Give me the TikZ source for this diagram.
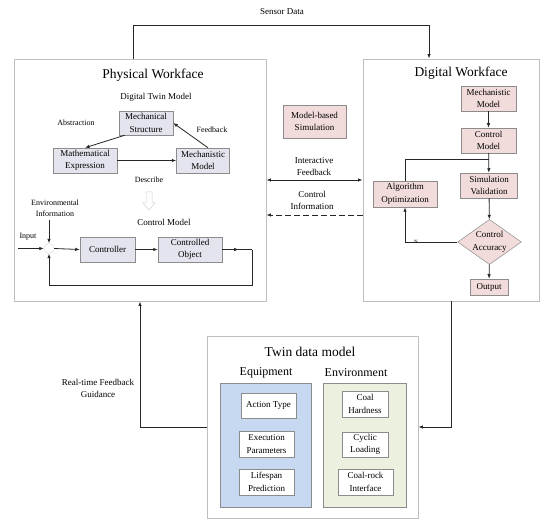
\documentclass[tikz,border=0pt]{standalone}
\usepackage{fontspec}
\setmainfont{Liberation Serif}
\usetikzlibrary{arrows.meta, decorations.markings, shapes.geometric, calc}
\definecolor{twGrey}{HTML}{BFBFBF}
\definecolor{twEdge}{HTML}{8C8C8C}
\definecolor{twLilac}{HTML}{E4E4EE}
\definecolor{twPink}{HTML}{F2DCDB}
\definecolor{twBlue}{HTML}{C6D9F1}
\definecolor{twGreen}{HTML}{EBF1DE}
\tikzset{
  frame/.style      = {draw=twGrey, line width=0.9pt, fill=white, inner sep=0pt},
  panel/.style      = {draw=twEdge, line width=0.5pt, inner sep=0pt},
  box/.style        = {draw=twEdge, line width=0.5pt, inner sep=1pt, align=center,
                       font=\fontsize{9}{12.5}\selectfont},
  lilacbox/.style   = {box, fill=twLilac},
  pinkbox/.style    = {box, fill=twPink},
  whitebox/.style   = {box, fill=white},
  arr/.style        = {-{Latex[length=4.5pt, width=3.5pt]}, line width=0.8pt, black!85},
  link/.style       = {line width=0.8pt, black!85},
  arrowhead/.style  = {decoration={markings,
                        mark=at position #1 with {\arrow{Latex[length=4.5pt, width=3.5pt]}}},
                       postaction={decorate}},
  title/.style      = {font=\fontsize{13.5}{15}\selectfont},
  subtitle/.style   = {font=\fontsize{12}{14}\selectfont},
  lbl/.style        = {font=\fontsize{9}{12.5}\selectfont, align=center},
  slbl/.style       = {font=\fontsize{8}{11}\selectfont, align=center},
}
\begin{document}
\begin{tikzpicture}[x=1pt, y=-1pt]
  \useasboundingbox (0,0) rectangle (550,527);

  % outer frames
  \node[frame, minimum width=252pt, minimum height=242pt] (phys) at (140,180) {};
  \node[frame, minimum width=176pt, minimum height=242pt] (dig)  at (451,180) {};
  \node[frame, minimum width=211pt, minimum height=182pt] (twin) at (312.5,427) {};

  % sensor data
  \coordinate (sdL) at (133,25);
  \coordinate (sdR) at (429,25);
  \node[lbl] (sd) at (282,12) {Sensor Data};
  \draw[arr] (phys.north -| sdL) -- (sdL) -- (sdR) -- (dig.north -| sdR);

  % physical workface : digital twin model
  \node[title] (physT) at (153,75) {Physical Workface};
  \node[lbl]   (dtm)   at (156,97) {Digital Twin Model};
  \node[lilacbox, minimum width=54pt, minimum height=24pt] (ms) at (146,123) {Mechanical\\Structure};
  \node[lilacbox, minimum width=64pt, minimum height=25pt] (me) at (85,160.5) {Mathematical\\Expression};
  \node[lilacbox, minimum width=53pt, minimum height=25pt] (mm) at (203,160.5) {Mechanistic\\Model};
  \draw[arr] ($(ms.south west)+(6,0)$) -- (me.north);
  \draw[arr] ($(mm.north)+(5,0)$) -- (ms.east);
  \draw[arr] (me.east) -- (mm.west);
  \node[slbl] (abs)  at (76,123)  {Abstraction};
  \node[slbl] (fbk)  at (212,130) {Feedback};
  \node[slbl] (desc) at (149,180) {Describe};
  \draw[twGrey!70, line width=0.5pt] (146,192) -- (152,192) -- (152,203) -- (155,203)
    -- (149,210) -- (143,203) -- (146,203) -- cycle;

  % physical workface : control model
  \node[lbl]  (cm)  at (164,222) {Control Model};
  \node[slbl] (env) at (55,208.5) {Environmental\\Information};
  \node[slbl] (inp) at (28,237) {Input};
  \node[circle, draw=twGrey!60, fill=white, minimum size=10pt, inner sep=0pt] (sum) at (49,248.5) {};
  \node[lilacbox, minimum width=55pt, minimum height=25pt] (ctrl) at (107.5,249.5) {Controller};
  \node[lilacbox, minimum width=64pt, minimum height=25pt] (obj)  at (190,249.5) {Controlled\\Object};
  \coordinate (envB) at (49,220);
  \coordinate (inL)  at (18,248.5);
  \coordinate (fbR)  at (252,249.5);
  \coordinate (fbL)  at (49,285);
  \draw[arr] (envB) -- (sum.north);
  \draw[arr] (inL) -- (sum.west);
  \draw[arr] (sum.east) -- (ctrl.west);
  \draw[arr] (ctrl.east) -- (obj.west);
  \draw[link, arrowhead=0.55] (obj.east) -- (fbR);
  \draw[arr] (fbR) |- (fbL) -- (sum.south);

  % between the workfaces
  \node[pinkbox, minimum width=63pt, minimum height=33pt] (mbs) at (314.5,121.5) {Model-based\\Simulation};
  \node[lbl] (ifb) at (314,166.5) {Interactive\\Feedback};
  \node[lbl] (cinf) at (312,200.5) {Control\\Information};
  \draw[{Latex[length=4.5pt, width=3.5pt]}-{Latex[length=4.5pt, width=3.5pt]}, link] (phys.east) -- (dig.west);
  \draw[arr, dashed, dash pattern=on 6pt off 3pt] ($(dig.west)+(0,35)$) -- ($(phys.east)+(0,35)$);

  % digital workface
  \node[title] (digT) at (461,73) {Digital Workface};
  \node[pinkbox, minimum width=55pt, minimum height=25pt] (dmm) at (488.5,98.5)  {Mechanistic\\Model};
  \node[pinkbox, minimum width=55pt, minimum height=25pt] (dcm) at (488.5,140.5) {Control\\Model};
  \node[pinkbox, minimum width=57pt, minimum height=25pt] (sv)  at (489,185.5)   {Simulation\\Validation};
  \node[pinkbox, diamond, aspect=1.41, inner sep=0pt, minimum width=62pt, minimum height=44pt] (ca) at (489.5,242) {Control\\Accuracy};
  \node[pinkbox, minimum width=38pt, minimum height=16pt] (out) at (489,287) {Output};
  \node[pinkbox, minimum width=64pt, minimum height=26pt] (ao)  at (405,194)   {Algorithm\\Optimization};
  \draw[arr] (dmm) -- (dcm);
  \draw[arr] (dcm) -- (sv);
  \draw[arr] (sv) -- (ca);
  \draw[arr] (ca) -- (out);
  \draw[arr] (ca.west) -| (ao.south);
  \draw[link] (ao.north) |- ($(dcm.south)+(0,6)$);
  \node[font=\fontsize{5}{5}\selectfont, inner sep=0pt] (no) at (416,242) {N};

  % feedback to and from the twin data model
  \draw[arr] (dig.south) |- (twin.east);
  \draw[arr] (twin.west) -| (phys.south);
  \node[lbl] (rtf) at (98,388.5) {Real-time Feedback\\Guidance};

  % twin data model
  \node[title]    (twT)  at (310,352) {Twin data model};
  \node[subtitle] (eqT)  at (266,373) {Equipment};
  \node[subtitle] (enT)  at (356,373) {Environment};
  \node[panel, fill=twBlue,  minimum width=91pt, minimum height=124pt] (eqP) at (265.5,445) {};
  \node[panel, fill=twGreen, minimum width=83pt, minimum height=124pt] (enP) at (364.5,445) {};
  \node[whitebox, minimum width=55pt, minimum height=25pt] (at) at (268.5,405.5) {Action Type};
  \node[whitebox, minimum width=55pt, minimum height=26pt] (ep) at (266.5,444)   {Execution\\Parameters};
  \node[whitebox, minimum width=55pt, minimum height=26pt] (lp) at (266.5,482)   {Lifespan\\Prediction};
  \node[whitebox, minimum width=46pt, minimum height=26pt] (ch) at (365,404)     {Coal\\Hardness};
  \node[whitebox, minimum width=46pt, minimum height=25pt] (cl) at (365,444.5)   {Cyclic\\Loading};
  \node[whitebox, minimum width=55pt, minimum height=26pt] (cr) at (365.5,482)   {Coal-rock\\Interface};
\end{tikzpicture}
\end{document}
